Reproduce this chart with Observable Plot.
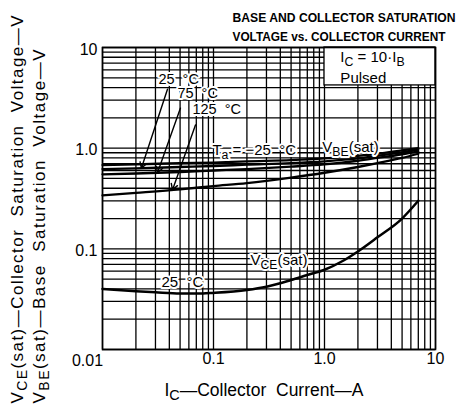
<!DOCTYPE html>
<html><head><meta charset="utf-8">
<script src="https://cdn.jsdelivr.net/npm/d3@7"></script>
<script src="https://cdn.jsdelivr.net/npm/@observablehq/plot@0.6"></script>
<style>
body{margin:0;background:#fff;}
#chart{width:460px;height:406px;}
svg text{white-space:pre;}
</style></head><body><div id="chart"></div>
<script>
// ---- data ----
const vbeCurrents = [0.01, 0.02, 0.05, 0.1, 0.2, 0.5, 1, 2, 3, 5, 7];
const vbeM25 = [0.68, 0.69, 0.71, 0.72, 0.74, 0.76, 0.79, 0.84, 0.88, 0.95, 1.0];
const vbe25  = [0.62, 0.63, 0.65, 0.665, 0.685, 0.71, 0.74, 0.79, 0.84, 0.91, 0.97];
const vbe75  = [0.55, 0.56, 0.58, 0.60, 0.62, 0.655, 0.69, 0.75, 0.80, 0.87, 0.93];
const vbe125 = [0.34, 0.36, 0.39, 0.42, 0.45, 0.51, 0.57, 0.65, 0.71, 0.80, 0.88];
const vceCurrents = [0.01, 0.02, 0.03, 0.05, 0.08, 0.1, 0.2, 0.3, 0.5, 0.7, 1, 1.5, 2, 3, 5, 7];
const vce25 = [0.040, 0.038, 0.037, 0.036, 0.036, 0.0365, 0.039, 0.042, 0.049, 0.055, 0.062, 0.077, 0.094, 0.13, 0.20, 0.30];

const gridValues = [];
for (const d of [0.01, 0.1, 1]) for (let k = 1; k <= 9; k++) gridValues.push(+(d * k).toPrecision(3));
gridValues.push(10);

const xTicks = [0.1, 1, 10];
const xTickLabels = ["0.1", "1.0", "10"];
const yTicks = [10, 1, 0.1];
const yTickLabels = ["10", "1.0", "0.1"];
const cornerTick = [0.01];
const cornerTickLabel = ["0.01"];

// annotation anchors (data space)
const arrowLabels = ["25  °C", "75  °C", "125  °C"];
const arrowFromX = [0.0385, 0.0504, 0.0688];
const arrowFromY = [3.85, 2.5, 1.7];
const arrowToX = [0.0224, 0.0313, 0.0427];
const arrowToY = [0.632, 0.57, 0.385];
const arrowLabelX = [0.0319, 0.0473, 0.0646];
const arrowLabelY = [4.85, 3.49, 2.42];

const noteTexts = ["T_{a} = −25  °C", "V_{BE}(sat)", "V_{CE}(sat)", "25  °C"];
const noteX = [0.0977, 0.955, 0.215, 0.034];
const noteY = [0.95, 1.016, 0.0767, 0.0464];

const boxX1 = [1], boxX2 = [10], boxY1 = [4.2], boxY2 = [10];
const boxTexts = ["I_{C} = 10·I_{B}", "Pulsed"];
const boxTextX = [1.39, 1.39];
const boxTextY = [7.96, 4.92];

const titleLines = ["BASE AND COLLECTOR SATURATION", "VOLTAGE vs. COLLECTOR CURRENT"];
const titleWidths = [223, 213];
const xTitle = "I_{C}—Collector  Current—A";
const yTitle1 = "V_{CE}(sat)—Collector  Saturation  Voltage—V";
const yTitle2 = "V_{BE}(sat)—Base  Saturation  Voltage—V";
const yTitleWidths = [388, 354];

// ---- tables ----
const vbeRows = [];
[["-25", vbeM25], ["25", vbe25], ["75", vbe75], ["125", vbe125]].forEach(([t, arr]) =>
  arr.forEach((v, i) => vbeRows.push({ic: vbeCurrents[i], v, t})));
const vceRows = vce25.map((v, i) => ({ic: vceCurrents[i], v}));
const arrows = arrowLabels.map((l, i) => ({l, x1: arrowFromX[i], y1: arrowFromY[i], x2: arrowToX[i], y2: arrowToY[i], lx: arrowLabelX[i], ly: arrowLabelY[i]}));
const notes = noteTexts.map((t, i) => ({t, x: noteX[i], y: noteY[i]}));
const boxNotes = boxTexts.map((t, i) => ({t, x: boxTextX[i], y: boxTextY[i]}));

const font = "'Liberation Sans', Arial, sans-serif";

const chart = Plot.plot({
  width: 460, height: 406,
  marginLeft: 102, marginRight: 25, marginTop: 47, marginBottom: 57,
  x: {type: "log", domain: [0.01, 10], axis: null},
  y: {type: "log", domain: [0.01, 10], axis: null},
  style: {fontFamily: font, background: "white", color: "black"},
  marks: [
    Plot.ruleX(gridValues, {x: d => d, stroke: "black", strokeWidth: 1.3}),
    Plot.ruleY(gridValues, {y: d => d, stroke: "black", strokeWidth: 1.3}),
    Plot.rect([0], {x1: () => boxX1[0], x2: () => boxX2[0], y1: () => boxY1[0], y2: () => boxY2[0], fill: "white", stroke: "black", strokeWidth: 1.3}),
    Plot.text(boxNotes, {x: "x", y: "y", text: "t", textAnchor: "start", fontSize: 15, fill: "black"}),
    Plot.line(vbeRows, {x: "ic", y: "v", z: "t", curve: "monotone-x", stroke: "black", strokeWidth: 2.3}),
    Plot.line(vceRows, {x: "ic", y: "v", curve: "monotone-x", stroke: "black", strokeWidth: 2.5}),
    Plot.arrow(arrows, {x1: "x1", y1: "y1", x2: "x2", y2: "y2", stroke: "black", strokeWidth: 1.4, headLength: 7}),
    Plot.text(arrows, {x: "lx", y: "ly", text: "l", textAnchor: "start", fontSize: 14.5, fill: "black", stroke: "white", strokeWidth: 4, paintOrder: "stroke"}),
    Plot.text(notes, {x: "x", y: "y", text: "t", textAnchor: "start", fontSize: 15, fill: "black", stroke: "white", strokeWidth: 4, paintOrder: "stroke"}),
    Plot.frame({stroke: "black", strokeWidth: 1.6}),
    Plot.text(xTicks, {x: d => d, text: (d, i) => xTickLabels[i], frameAnchor: "bottom", dy: 14, fontSize: 16, fill: "black"}),
    Plot.text(yTicks, {y: d => d, text: (d, i) => yTickLabels[i], frameAnchor: "left", textAnchor: "end", dx: -5, dy: 2, fontSize: 16, fill: "black"}),
    Plot.text(cornerTick, {x: d => d, y: d => d, text: (d, i) => cornerTickLabel[i], dx: -15, dy: 11, fontSize: 16, fill: "black"}),
    Plot.text([titleLines[0]], {text: d => d, frameAnchor: "top-left", textAnchor: "start", dx: 130, dy: -34, fontSize: 12, fontWeight: "bold", fill: "black"}),
    Plot.text([titleLines[1]], {text: d => d, frameAnchor: "top-left", textAnchor: "start", dx: 130, dy: -15, fontSize: 12, fontWeight: "bold", fill: "black"}),
    Plot.text([xTitle], {text: d => d, frameAnchor: "bottom", dx: -5, dy: 46, fontSize: 17.5, fill: "black"}),
    Plot.text([yTitle1], {text: d => d, frameAnchor: "bottom-left", textAnchor: "start", rotate: -90, dx: -80, dy: 54, fontSize: 17, fill: "black"}),
    Plot.text([yTitle2], {text: d => d, frameAnchor: "bottom-left", textAnchor: "start", rotate: -90, dx: -58, dy: 54, fontSize: 17, fill: "black"})
  ]
});

// fit lengths of title texts
chart.querySelectorAll("text").forEach(t => {
  const s = t.textContent;
  const ti = titleLines.indexOf(s);
  if (ti >= 0) {
    t.setAttribute("textLength", titleWidths[ti]);
    t.setAttribute("lengthAdjust", "spacingAndGlyphs");
  }
  const yi = [yTitle1, yTitle2].indexOf(s);
  if (yi >= 0) {
    t.setAttribute("textLength", yTitleWidths[yi]);
    t.setAttribute("lengthAdjust", "spacing");
  }
});

// subscripts: convert _{..} into tspans
const SVGNS = "http://www.w3.org/2000/svg";
chart.querySelectorAll("text").forEach(t => {
  const spans = t.querySelectorAll("tspan");
  const nodes = spans.length ? [...spans] : [t];
  nodes.forEach(n => {
    const s = n.textContent;
    if (!s.includes("_{")) return;
    n.textContent = "";
    const parts = s.split(/(_\{[^}]*\})/).filter(p => p);
    let shifted = false;
    parts.forEach(p => {
      const ts = document.createElementNS(SVGNS, "tspan");
      if (p.startsWith("_{")) {
        ts.textContent = p.slice(2, -1);
        ts.setAttribute("font-size", "82%");
        ts.setAttribute("dy", "4");
        shifted = true;
      } else {
        ts.textContent = p;
        if (shifted) { ts.setAttribute("dy", "-4"); shifted = false; }
      }
      n.appendChild(ts);
    });
  });
});

document.getElementById("chart").appendChild(chart);
</script></body></html>
